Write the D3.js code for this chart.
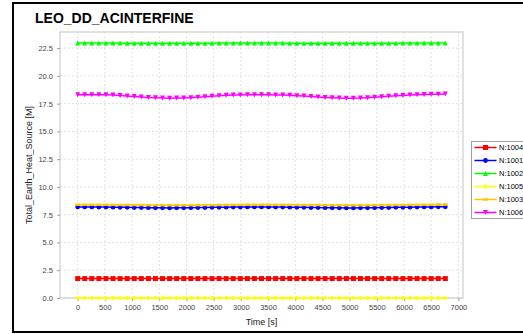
<!DOCTYPE html>
<html>
<head>
<meta charset="utf-8">
<script src="https://cdn.jsdelivr.net/npm/d3@7"></script>
<style>
  html, body { margin: 0; padding: 0; background: #fff; }
  svg { display: block; }
  text { font-family: "Liberation Sans", Arial, sans-serif; }
</style>
</head>
<body>
<svg id="chart" width="523" height="334"></svg>
<script>
const title = "LEO_DD_ACINTERFINE";
const xLabel = "Time [s]";
const yLabel = "Total_Earth_Heat_Source [M]";
const xTicks = [0, 500, 1000, 1500, 2000, 2500, 3000, 3500, 4000, 4500, 5000, 5500, 6000, 6500, 7000];
const yTicks = [0.0, 2.5, 5.0, 7.5, 10.0, 12.5, 15.0, 17.5, 20.0, 22.5];

const times = [0, 130, 260, 390, 520, 650, 780, 910, 1040, 1170, 1300, 1430, 1560, 1690, 1820, 1950, 2080, 2210, 2340, 2470, 2600, 2730, 2860, 2990, 3120, 3250, 3380, 3510, 3640, 3770, 3900, 4030, 4160, 4290, 4420, 4550, 4680, 4810, 4940, 5070, 5200, 5330, 5460, 5590, 5720, 5850, 5980, 6110, 6240, 6370, 6500, 6630, 6760];

const n1004 = [1.75, 1.75, 1.75, 1.75, 1.75, 1.75, 1.75, 1.75, 1.75, 1.75, 1.75, 1.75, 1.75, 1.75, 1.75, 1.75, 1.75, 1.75, 1.75, 1.75, 1.75, 1.75, 1.75, 1.75, 1.75, 1.75, 1.75, 1.75, 1.75, 1.75, 1.75, 1.75, 1.75, 1.75, 1.75, 1.75, 1.75, 1.75, 1.75, 1.75, 1.75, 1.75, 1.75, 1.75, 1.75, 1.75, 1.75, 1.75, 1.75, 1.75, 1.75, 1.75, 1.75];
const n1001 = [8.20, 8.20, 8.20, 8.19, 8.19, 8.18, 8.17, 8.16, 8.15, 8.14, 8.13, 8.12, 8.12, 8.11, 8.12, 8.12, 8.13, 8.14, 8.15, 8.16, 8.17, 8.18, 8.19, 8.19, 8.20, 8.20, 8.20, 8.20, 8.19, 8.19, 8.18, 8.17, 8.16, 8.15, 8.14, 8.13, 8.12, 8.12, 8.11, 8.11, 8.12, 8.12, 8.13, 8.14, 8.15, 8.16, 8.17, 8.18, 8.19, 8.20, 8.20, 8.21, 8.21];
const n1002 = [22.95, 22.95, 22.95, 22.95, 22.95, 22.95, 22.95, 22.94, 22.94, 22.94, 22.94, 22.93, 22.93, 22.93, 22.93, 22.93, 22.93, 22.94, 22.94, 22.94, 22.95, 22.95, 22.95, 22.95, 22.95, 22.95, 22.95, 22.95, 22.95, 22.95, 22.94, 22.94, 22.94, 22.94, 22.93, 22.93, 22.93, 22.93, 22.93, 22.93, 22.93, 22.93, 22.94, 22.94, 22.94, 22.94, 22.95, 22.95, 22.95, 22.95, 22.95, 22.95, 22.95];
const n1005 = [0, 0, 0, 0, 0, 0, 0, 0, 0, 0, 0, 0, 0, 0, 0, 0, 0, 0, 0, 0, 0, 0, 0, 0, 0, 0, 0, 0, 0, 0, 0, 0, 0, 0, 0, 0, 0, 0, 0, 0, 0, 0, 0, 0, 0, 0, 0, 0, 0, 0, 0, 0, 0];
const n1003 = [8.40, 8.40, 8.40, 8.40, 8.39, 8.39, 8.38, 8.38, 8.37, 8.37, 8.36, 8.36, 8.35, 8.35, 8.35, 8.35, 8.36, 8.36, 8.37, 8.37, 8.38, 8.38, 8.39, 8.39, 8.40, 8.40, 8.40, 8.40, 8.39, 8.39, 8.39, 8.38, 8.38, 8.37, 8.37, 8.36, 8.36, 8.35, 8.35, 8.35, 8.35, 8.36, 8.36, 8.37, 8.37, 8.38, 8.38, 8.39, 8.39, 8.40, 8.40, 8.41, 8.41];
const n1006 = [18.31, 18.31, 18.31, 18.30, 18.29, 18.27, 18.23, 18.19, 18.14, 18.10, 18.05, 18.02, 18.00, 17.99, 18.00, 18.01, 18.04, 18.08, 18.12, 18.17, 18.21, 18.25, 18.27, 18.28, 18.29, 18.29, 18.29, 18.29, 18.28, 18.27, 18.25, 18.22, 18.18, 18.14, 18.09, 18.05, 18.02, 18.00, 17.99, 17.99, 18.00, 18.03, 18.07, 18.11, 18.16, 18.20, 18.24, 18.27, 18.30, 18.32, 18.34, 18.35, 18.36];

const seriesNames = ["N:1004", "N:1001", "N:1002", "N:1005", "N:1003", "N:1006"];
const seriesValues = [n1004, n1001, n1002, n1005, n1003, n1006];
const seriesColors = ["#ff0000", "#0000ff", "#00ff00", "#ffff00", "#ffc800", "#ff00ff"];
const seriesShapes = ["square", "circle", "triUp", "diamond", "hrect", "triDown"];

const svg = d3.select("#chart");
const plot = { left: 60, top: 32, right: 463, bottom: 298 };

const x = d3.scaleLinear().domain([-325, 7085]).range([plot.left, plot.right]);
const y = d3.scaleLinear().domain([0, 23.95]).range([plot.bottom, plot.top]);

// outer frame
svg.append("rect").attr("x", 13).attr("y", 3).attr("width", 530).attr("height", 329)
  .attr("fill", "none").attr("stroke", "#000").attr("stroke-width", 2);

// title
svg.append("text").attr("x", 35).attr("y", 23).attr("font-size", 14).attr("font-weight", "bold")
  .attr("fill", "#000").text(title);

// plot background
svg.append("rect").attr("x", plot.left).attr("y", plot.top)
  .attr("width", plot.right - plot.left).attr("height", plot.bottom - plot.top)
  .attr("fill", "#fff");

// grid
const grid = svg.append("g");
grid.selectAll("line.vx").data(xTicks).join("line")
  .attr("x1", d => x(d)).attr("x2", d => x(d)).attr("y1", plot.top).attr("y2", plot.bottom)
  .attr("stroke", "#d8d8d8").attr("stroke-width", 0.8).attr("stroke-dasharray", "2,2");
grid.selectAll("line.hy").data(yTicks).join("line")
  .attr("x1", plot.left).attr("x2", plot.right).attr("y1", d => y(d)).attr("y2", d => y(d))
  .attr("stroke", "#d8d8d8").attr("stroke-width", 0.8).attr("stroke-dasharray", "2,2");

// plot border
svg.append("rect").attr("x", plot.left).attr("y", plot.top)
  .attr("width", plot.right - plot.left).attr("height", plot.bottom - plot.top)
  .attr("fill", "none").attr("stroke", "#c4c4c4").attr("stroke-width", 1);

// axes
const xAxis = d3.axisBottom(x).tickValues(xTicks).tickFormat(d3.format("d")).tickSize(3).tickPadding(4);
const yAxis = d3.axisLeft(y).tickValues(yTicks).tickFormat(d3.format(".1f")).tickSize(3).tickPadding(4);
const gx = svg.append("g").attr("transform", `translate(0,${plot.bottom})`).call(xAxis);
const gy = svg.append("g").attr("transform", `translate(${plot.left},0)`).call(yAxis);
[gx, gy].forEach(g => {
  g.select(".domain").remove();
  g.selectAll(".tick line").attr("stroke", "#a0a0a0");
  g.selectAll(".tick text").attr("font-size", 7.5).attr("fill", "#444")
    .attr("font-family", "'Liberation Sans', Arial, sans-serif");
});

// axis labels
svg.append("text").attr("x", (plot.left + plot.right) / 2).attr("y", 325)
  .attr("text-anchor", "middle").attr("font-size", 9).attr("fill", "#222").text(xLabel);
svg.append("text").attr("transform", `translate(32,${(plot.top + plot.bottom) / 2}) rotate(-90)`)
  .attr("text-anchor", "middle").attr("font-size", 9).attr("fill", "#222").text(yLabel);

// marker shapes
function shapePath(kind) {
  switch (kind) {
    case "square": return "M-2.5,-2.5H2.5V2.5H-2.5Z";
    case "circle": return d3.symbol(d3.symbolCircle, 18)();
    case "triUp": return "M0,-2.5L2.5,2.5H-2.5Z";
    case "diamond": return "M0,-2.5L2.5,0L0,2.5L-2.5,0Z";
    case "hrect": return "M-2.5,-1.25H2.5V1.25H-2.5Z";
    case "triDown": return "M0,2.5L2.5,-2.5H-2.5Z";
  }
}

const line = d3.line().x(d => x(d[0])).y(d => y(d[1]));
const seriesG = svg.append("g");
seriesNames.forEach((name, s) => {
  const pts = times.map((t, i) => [t, seriesValues[s][i]]);
  const g = seriesG.append("g");
  g.append("path").datum(pts).attr("d", line).attr("fill", "none")
    .attr("stroke", seriesColors[s]).attr("stroke-width", 1.5);
  g.selectAll("path.m").data(pts).join("path").attr("class", "m")
    .attr("transform", d => `translate(${x(d[0])},${y(d[1])})`)
    .attr("d", shapePath(seriesShapes[s])).attr("fill", seriesColors[s]);
});

// legend
const lg = svg.append("g");
lg.append("rect").attr("x", 471.5).attr("y", 141.5).attr("width", 60).attr("height", 77)
  .attr("fill", "#fff").attr("stroke", "#a0a0a0").attr("stroke-width", 1);
seriesNames.forEach((name, i) => {
  const cy = 147.5 + i * 13;
  lg.append("line").attr("x1", 474.5).attr("x2", 496.5).attr("y1", cy).attr("y2", cy)
    .attr("stroke", seriesColors[i]).attr("stroke-width", 1.5);
  lg.append("path").attr("transform", `translate(485.5,${cy})`)
    .attr("d", shapePath(seriesShapes[i])).attr("fill", seriesColors[i]);
  lg.append("text").attr("x", 499).attr("y", cy + 2.8).attr("font-size", 7.5)
    .attr("fill", "#000").text(name);
});
</script>
</body>
</html>
